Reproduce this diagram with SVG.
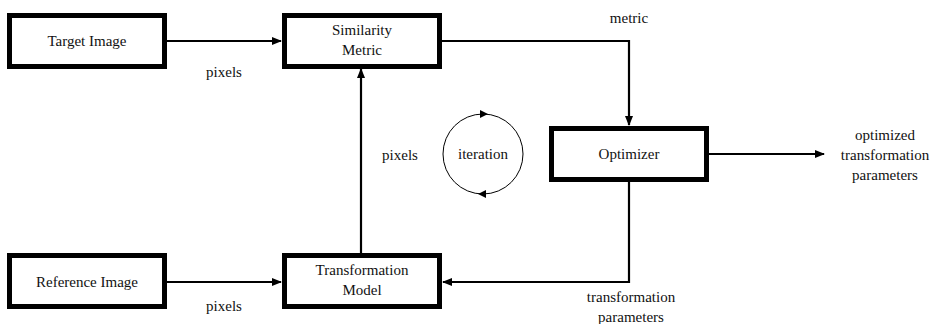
<svg xmlns="http://www.w3.org/2000/svg" width="935" height="324" viewBox="0 0 935 324">
  <style>
    .box { fill: #ffffff; stroke: #000000; stroke-width: 5; }
    .wire { fill: none; stroke: #000000; stroke-width: 2.2; }
    .loop { fill: none; stroke: #000000; stroke-width: 1; }
  </style>
  <defs>
    <marker id="arrow" markerWidth="10" markerHeight="8" refX="9" refY="4" orient="auto" markerUnits="userSpaceOnUse">
      <path d="M0,0 L10,4 L0,8 z" fill="#000000"/>
    </marker>
  </defs>
  <rect width="935" height="324" fill="#ffffff"/>

  <g font-family="Liberation Serif, DejaVu Serif, serif" font-size="15" fill="#111111" text-anchor="middle">
    <!-- connectors and their labels -->
    <g id="connectors">
      <path class="wire" d="M167,41 L281,41" marker-end="url(#arrow)"/>
      <path class="wire" d="M167,282 L281,282" marker-end="url(#arrow)"/>
      <path class="wire" d="M361,253 L361,69" marker-end="url(#arrow)"/>
      <path class="wire" d="M442,41 L629,41 L629,125" marker-end="url(#arrow)"/>
      <path class="wire" d="M709,154 L824,154" marker-end="url(#arrow)"/>
      <path class="wire" d="M629,182 L629,282 L443,282" marker-end="url(#arrow)"/>
      <text x="224" y="77">pixels</text>
      <text x="224" y="311">pixels</text>
      <text x="400" y="160">pixels</text>
      <text x="629" y="23">metric</text>
      <text x="631" y="302">transformation</text>
      <text x="631" y="322">parameters</text>
      <text x="885" y="140">optimized</text>
      <text x="885" y="160">transformation</text>
      <text x="885" y="180">parameters</text>
    </g>

    <!-- iteration loop -->
    <g id="iteration">
      <circle class="loop" cx="483" cy="154" r="40"/>
      <path d="M480,110 L488,114 L480,118 z" fill="#000000"/>
      <path d="M486,190 L478,194 L486,198 z" fill="#000000"/>
      <text x="483" y="159">iteration</text>
    </g>

    <g id="target-image">
      <rect class="box" x="9.5" y="15.5" width="155" height="51"/>
      <text x="87" y="46">Target Image</text>
    </g>

    <g id="similarity-metric">
      <rect class="box" x="284.5" y="15.5" width="155" height="51"/>
      <text x="362" y="35">Similarity</text>
      <text x="362" y="55">Metric</text>
    </g>

    <g id="optimizer">
      <rect class="box" x="551.5" y="128.5" width="155" height="51"/>
      <text x="629" y="159">Optimizer</text>
    </g>

    <g id="reference-image">
      <rect class="box" x="9.5" y="255.5" width="155" height="51"/>
      <text x="87" y="287">Reference Image</text>
    </g>

    <g id="transformation-model">
      <rect class="box" x="284.5" y="255.5" width="155" height="51"/>
      <text x="362" y="275">Transformation</text>
      <text x="362" y="295">Model</text>
    </g>
  </g>
</svg>
